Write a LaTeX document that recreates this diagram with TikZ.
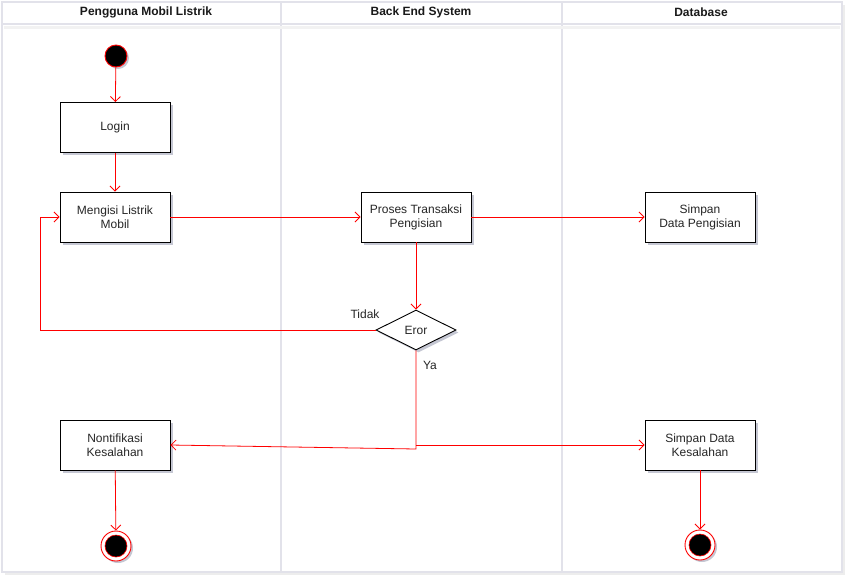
\documentclass[tikz,border=0pt]{standalone}
\usepackage{fontspec}
\setmainfont{Liberation Sans}
\usetikzlibrary{arrows.meta,shapes.geometric,shadows}
\definecolor{shadowc}{RGB}{90,95,130}
\definecolor{lanec}{RGB}{226,226,234}
\begin{document}
\begin{tikzpicture}[x=1pt,y=-1pt,
  lane/.style={draw=lanec, line width=2pt, fill=white},
  lanehead/.style={font=\fontsize{12}{14}\selectfont\bfseries, text=black!90},
  box/.style={draw=black, fill=white, line width=0.9pt, minimum width=110pt, minimum height=50pt, align=center, inner sep=2pt,
    font=\fontsize{12}{14}\selectfont, text=black!85,
    drop shadow={opacity=0.35, fill=shadowc, shadow xshift=2.5pt, shadow yshift=-2.5pt}},
  dec/.style={diamond, aspect=2, draw=black, fill=white, line width=0.9pt, minimum width=80pt, minimum height=40pt, inner sep=0pt,
    font=\fontsize{12}{14}\selectfont, text=black!85,
    drop shadow={opacity=0.35, fill=shadowc, shadow xshift=2.5pt, shadow yshift=-2.5pt}},
  startnode/.style={circle, draw=red, fill=black, line width=0.9pt, minimum size=22pt, inner sep=0pt,
    drop shadow={opacity=0.35, fill=shadowc, shadow xshift=2pt, shadow yshift=-2pt}},
  endnode/.style={circle, draw=red, fill=white, line width=0.9pt, minimum size=30pt, inner sep=0pt,
    drop shadow={opacity=0.35, fill=shadowc, shadow xshift=2pt, shadow yshift=-2pt}},
  endcore/.style={circle, draw=red, fill=black, line width=0.6pt, minimum size=22pt, inner sep=0pt},
  flow/.style={draw=red, line width=0.8pt, -{Straight Barb[length=5pt,width=10pt]}},
  lbl/.style={font=\fontsize{12}{14}\selectfont, text=black!85}
]
\useasboundingbox (0,0) rectangle (852,582);
\fill[white] (0,0) rectangle (852,582);
% lanes
\foreach \a/\b in {2/281,281/562,562/842}{
  \fill[black!7] (\a+3,5) rectangle (\b+3,575);
  \draw[lane] (\a,2) rectangle (\b,572);
  \draw[draw=lanec, line width=2pt] (\a,24) -- (\b,24);
}
\draw[draw=black!5, line width=3pt] (4,27) -- (840,27);
\node[lanehead] (h1) at (146,12) {Pengguna Mobil Listrik};
\node[lanehead] (h2) at (421,12) {Back End System};
\node[lanehead] (h3) at (701,12) {Database};
% nodes
\node[startnode] (start) at (116,56) {};
\node[box] (login) at (115,127.5) {Login};
\node[box] (isi) at (115,217) {Mengisi Listrik\\Mobil};
\node[box] (proses) at (416,217) {Proses Transaksi\\Pengisian};
\node[box] (simpan1) at (700,217) {Simpan\\Data Pengisian};
\node[dec] (eror) at (416,330) {Eror};
\node[box] (notif) at (115,445) {Nontifikasi\\Kesalahan};
\node[box] (simpan2) at (700,445) {Simpan Data\\Kesalahan};
\node[endnode] (end1) at (116,546) {};
\node[endcore] at (end1) {};
\node[endnode] (end2) at (700,545) {};
\node[endcore] at (end2) {};
\coordinate (j) at (416,449);
% edges
\draw[flow] (start) -- (login);
\draw[flow] (login) -- (isi);
\draw[flow] (isi) -- (proses);
\draw[flow] (proses) -- (simpan1);
\draw[flow] (proses) -- (eror);
\draw[flow] (eror.west) -- (40,330) -- (40,217) -- (isi.west);
\draw[flow] (eror.south) -- (j) -- (notif.east);
\draw[flow] (416,445) -- (simpan2.west);
\draw[flow] (notif) -- (end1);
\draw[flow] (simpan2) -- (end2);
\node[lbl] (tidak) at (365,314) {Tidak};
\node[lbl] (ya) at (430,365) {Ya};
\end{tikzpicture}
\end{document}
